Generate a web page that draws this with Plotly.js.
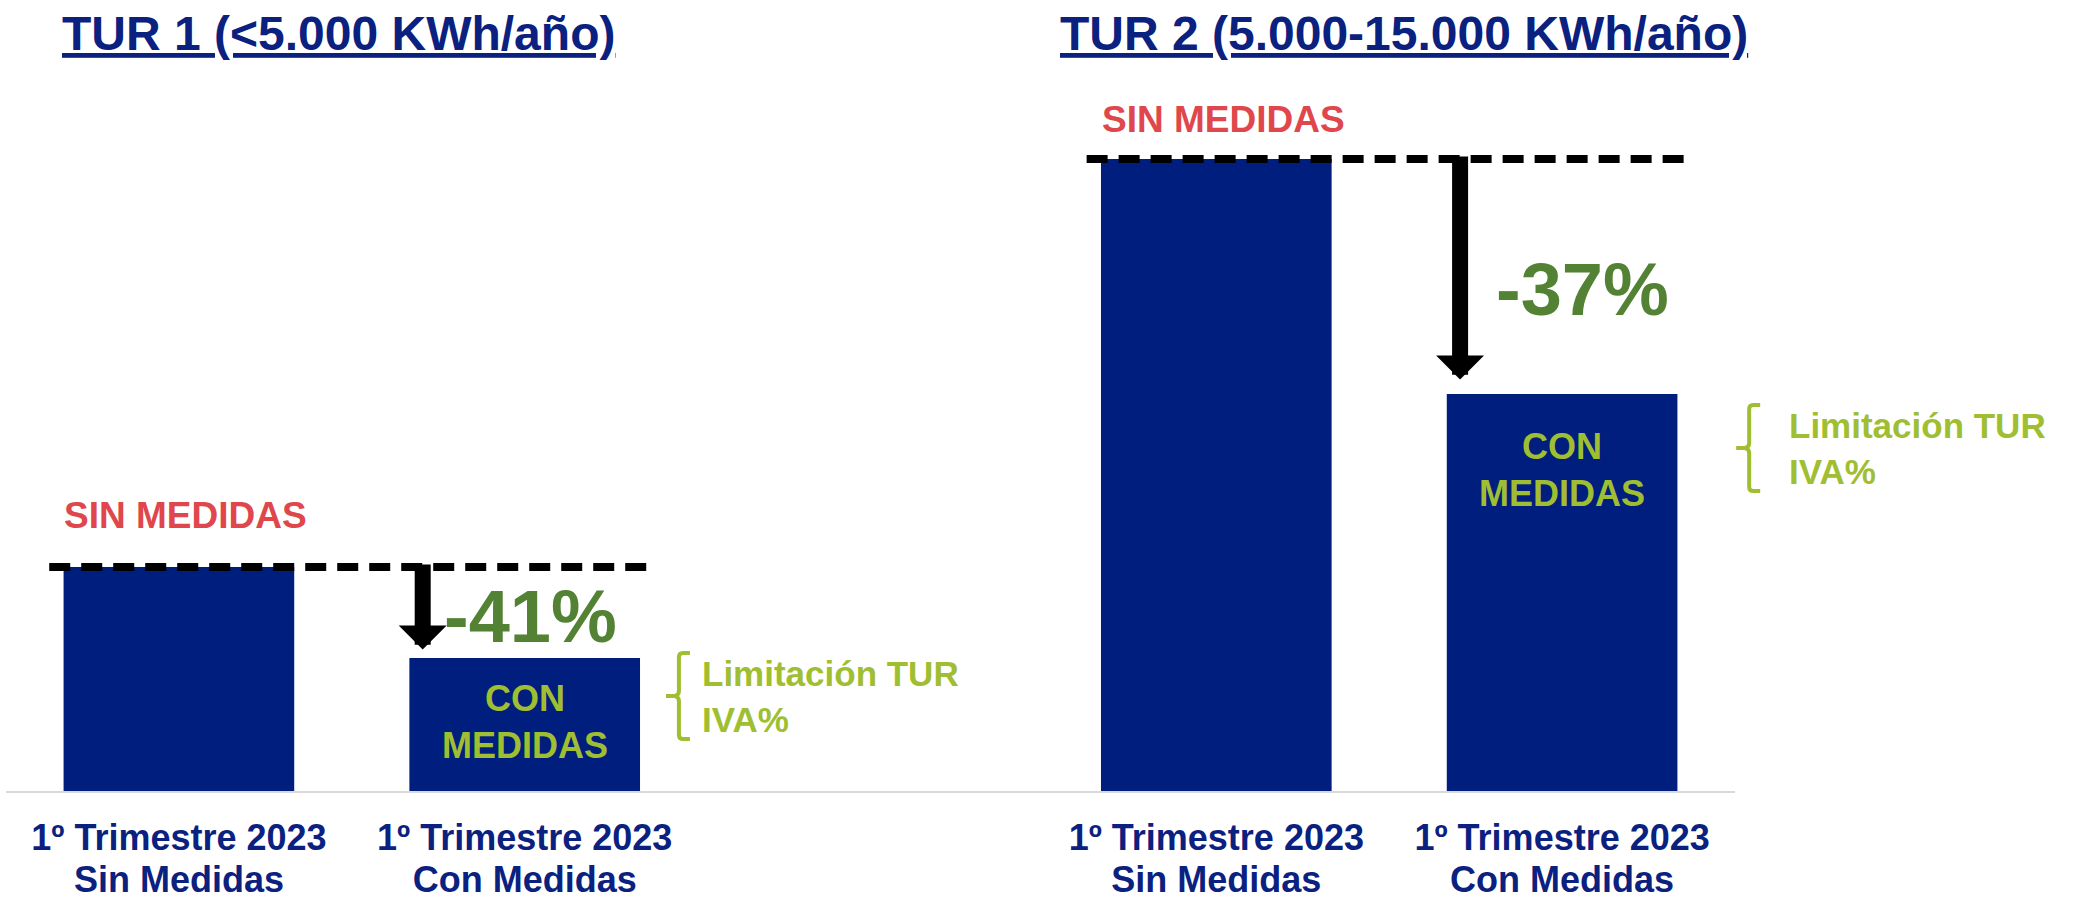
<!DOCTYPE html>
<html>
<head>
<meta charset="utf-8">
<script src="https://cdn.plot.ly/plotly-3.0.1.min.js"></script>
<style>html,body{margin:0;padding:0;background:#fff;}#chart{width:2075px;height:902px;}</style>
</head>
<body>
<div id="chart"></div>
<script>
// ---------- DATA ----------
const grupos = ['TUR 1 (<5.000 KWh/año)', 'TUR 2 (5.000-15.000 KWh/año)'];
const escenarioLinea1 = ['1º Trimestre 2023', '1º Trimestre 2023'];
const escenarioLinea2 = ['Sin Medidas', 'Con Medidas'];
const sinMedidas = [224, 632];   // estimated bar heights (relative units)
const conMedidas = [133, 397];
const reducciones = ['-41%', '-37%'];
const etiquetaSin = 'SIN MEDIDAS';
const etiquetaCon = 'CON<br>MEDIDAS';
const notaCon = 'Limitación TUR<br>IVA%';

// ---------- STYLE / LAYOUT CONSTANTS ----------
const NAVY = '#001E7D', NAVY_TXT = '#0B2180', RED = '#E0474C', OLIVE = '#548235', LIME = '#A0BE32';
const FONT = 'Liberation Sans, Arial, sans-serif';
const XRANGE = [-0.5, 4.5];
const toPaperX = v => (v - XRANGE[0]) / (XRANGE[1] - XRANGE[0]);
const PANEL = [
  {titleDx: -0.345, sinDy: 52, conDy: -64, pctDx: 0.017, pctDy: -3.5, tipGap: 5, brDx: 0.446, txDx: 0.507, brDy: -38},
  {titleDx: -0.457, sinDy: 40, conDy: -76, pctDx: 0.06, pctDy: -12.5, tipGap: 11, brDx: 0.541, txDx: 0.650, brDy: -54}
];

const xs = [], ys = [], tickvals = [], tick1 = [], tick2 = [];
grupos.forEach((g, i) => {
  const xs0 = 3 * i, xc0 = 3 * i + 1;
  xs.push(xs0, xc0); ys.push(sinMedidas[i], conMedidas[i]);
  tickvals.push(xs0, xc0);
  tick1.push(escenarioLinea1[0], escenarioLinea1[1]);
  tick2.push(escenarioLinea2[0], escenarioLinea2[1]);
});

const shapes = [], annotations = [];
grupos.forEach((g, i) => {
  const p = PANEL[i];
  const xS = 3 * i, xC = 3 * i + 1;
  const s = sinMedidas[i], c = conMedidas[i];
  // dashed reference line
  shapes.push({type: 'line', xref: 'x', yref: 'y', x0: xS - 0.375, x1: xC + 0.364, y0: s, y1: s,
    line: {color: '#000', width: 8, dash: '21px,11px'}, layer: 'above'});
  // bracket
  shapes.push({type: 'path', xref: 'paper', yref: 'y', xsizemode: 'pixel', ysizemode: 'pixel',
    xanchor: toPaperX(xC + p.brDx), yanchor: c + p.brDy,
    path: 'M11,43 H4 Q0,43 0,39 V5 Q0,1 -4,0 H-13 M-4,0 Q0,-1 0,-5 V-39 Q0,-43 4,-43 H11',
    line: {color: LIME, width: 4}, layer: 'above'});
  // title
  annotations.push({text: g, xref: 'x', yref: 'paper', x: xS + p.titleDx, y: 1.099, xanchor: 'left', yanchor: 'middle',
    showarrow: false, font: {family: FONT, size: 48, color: NAVY_TXT, weight: 700, lineposition: 'under'}});
  // SIN MEDIDAS
  annotations.push({text: etiquetaSin, xref: 'x', yref: 'y', x: xS + 0.02, y: s + p.sinDy, xanchor: 'center', yanchor: 'middle',
    showarrow: false, font: {family: FONT, size: 37, color: RED, weight: 700}});
  // CON MEDIDAS
  annotations.push({text: etiquetaCon, xref: 'x', yref: 'y', x: xC, y: c + p.conDy, xanchor: 'center', yanchor: 'middle',
    showarrow: false, font: {family: FONT, size: 36, color: LIME, weight: 700}});
  // percentage
  annotations.push({text: reducciones[i], xref: 'x', yref: 'y', x: xC + p.pctDx, y: (s + c) / 2 + p.pctDy, xanchor: 'center', yanchor: 'middle',
    showarrow: false, font: {family: FONT, size: 74, color: OLIVE, weight: 700}});
  // note
  annotations.push({text: notaCon, xref: 'paper', yref: 'y', x: toPaperX(xC + p.txDx), y: c + p.brDy, xanchor: 'left', yanchor: 'middle', align: 'left',
    showarrow: false, font: {family: FONT, size: 35, color: LIME, weight: 700}});
  // arrow
  annotations.push({text: '', xref: 'x', yref: 'y', axref: 'x', ayref: 'y',
    x: xC - 0.295, y: c + p.tipGap + 3.4, ax: xC - 0.295, ay: s + 4,
    showarrow: true, arrowhead: 1, arrowsize: 0.5, arrowwidth: 16, arrowcolor: '#000', standoff: 0, startstandoff: 0});
});

const data = [
  {type: 'bar', x: xs, y: ys, width: 0.667, marker: {color: NAVY, line: {width: 0}}, hoverinfo: 'skip', showlegend: false},
  // invisible companion trace so the second label axis is drawn
  {type: 'scatter', mode: 'none', x: xs, y: ys, xaxis: 'x2', yaxis: 'y', hoverinfo: 'skip', showlegend: false}
];

const layout = {
  width: 2075, height: 902,
  margin: {l: 6, r: 340, t: 102, b: 111},
  paper_bgcolor: '#fff', plot_bgcolor: '#fff',
  showlegend: false, hovermode: false,
  xaxis: {range: XRANGE, tickmode: 'array', tickvals: tickvals, ticktext: tick1, ticks: '',
    showgrid: false, zeroline: false, showline: true, linecolor: '#D9D9D9', linewidth: 2,
    ticklabelstandoff: 14, tickfont: {family: FONT, size: 36, color: NAVY_TXT, weight: 700}, fixedrange: true},
  xaxis2: {range: XRANGE, overlaying: 'x', anchor: 'y', side: 'bottom', tickmode: 'array', tickvals: tickvals, ticktext: tick2,
    ticks: '', showgrid: false, zeroline: false, showline: false,
    ticklabelstandoff: 64, tickfont: {family: FONT, size: 36, color: NAVY_TXT, weight: 700}, fixedrange: true},
  yaxis: {range: [0, 689], visible: false, fixedrange: true},
  shapes: shapes,
  annotations: annotations
};

Plotly.newPlot('chart', data, layout, {staticPlot: true, displayModeBar: false});
</script>
</body>
</html>
